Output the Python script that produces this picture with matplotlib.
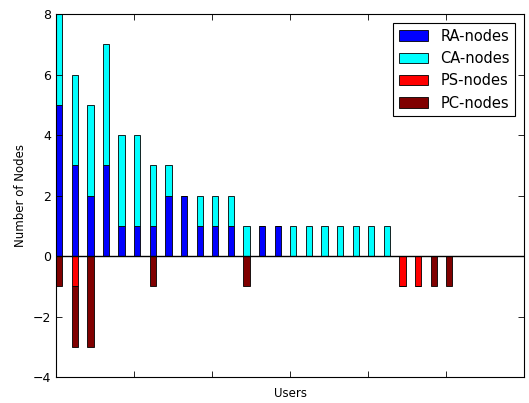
import numpy as np
import matplotlib
matplotlib.use("Agg")
import matplotlib.pyplot as plt

# nodes per user (26 users)
ra_nodes = [5, 3, 2, 3, 1, 1, 1, 2, 2, 1, 1, 1, 0, 1, 1, 0, 0, 0, 0, 0, 0, 0, 0, 0, 0, 0]
ca_nodes = [3, 3, 3, 4, 3, 3, 2, 1, 0, 1, 1, 1, 1, 0, 0, 1, 1, 1, 1, 1, 1, 1, 0, 0, 0, 0]
ps_nodes = [0, 1, 0, 0, 0, 0, 0, 0, 0, 0, 0, 0, 0, 0, 0, 0, 0, 0, 0, 0, 0, 0, 1, 1, 0, 0]
pc_nodes = [1, 2, 3, 0, 0, 0, 1, 0, 0, 0, 0, 0, 1, 0, 0, 0, 0, 0, 0, 0, 0, 0, 0, 0, 1, 1]

ra = np.array(ra_nodes)
ca = np.array(ca_nodes)
ps = -np.array(ps_nodes)
pc = -np.array(pc_nodes)
x = np.arange(len(ra))
w = 0.4

fig = plt.figure(figsize=(5.29, 4.03), dpi=100)
ax = fig.add_axes([0.106, 0.0645, 0.885, 0.9005])

kw = dict(width=w, align='edge', edgecolor='black', linewidth=0.6)
ax.bar(x, ra, color='#0000ff', label='RA-nodes', **kw)
ax.bar(x, ca, bottom=ra, color='#00ffff', label='CA-nodes', **kw)
ax.bar(x, ps, color='#ff0000', label='PS-nodes', **kw)
ax.bar(x, pc, bottom=ps, color='#800000', label='PC-nodes', **kw)
ax.axhline(0, color='black', linewidth=1)

ax.set_xlim(0, 30)
ax.set_ylim(-4, 8)
ax.set_xticks(np.arange(0, 31, 5))
ax.set_xticklabels([])
ax.set_yticks(np.arange(-4, 9, 2))
ax.tick_params(direction='in', top=True, right=True, labelsize=9, length=4, width=0.6)
for s in ax.spines.values():
    s.set_linewidth(0.8)
ax.set_xlabel('Users', fontsize=8.5)
ax.set_ylabel('Number of Nodes', fontsize=8.5)

leg = ax.legend(loc='upper right', fontsize=10.5, fancybox=False, framealpha=1,
                edgecolor='black', handlelength=2.0, handleheight=0.7,
                borderaxespad=0.6)
leg.get_frame().set_linewidth(0.8)

fig.savefig('out.png', dpi=100)
